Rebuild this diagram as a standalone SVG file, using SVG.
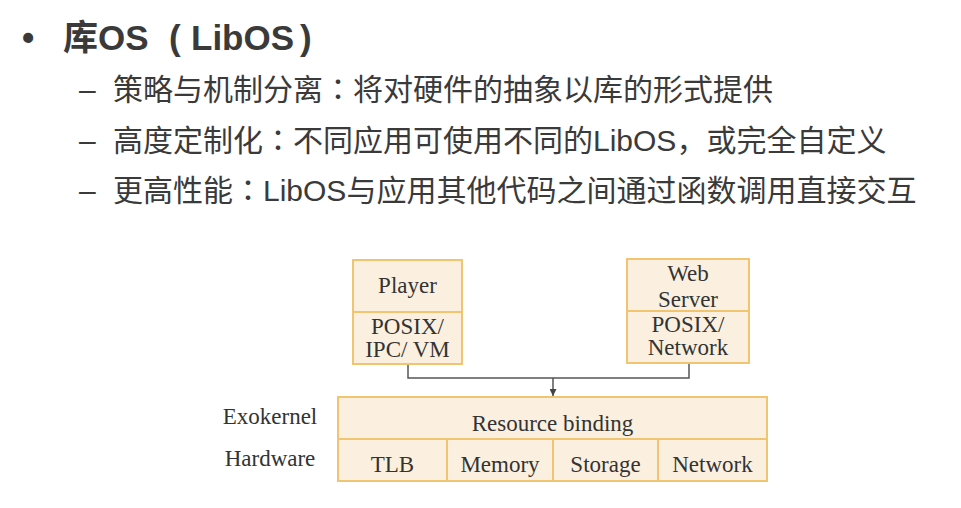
<svg xmlns="http://www.w3.org/2000/svg" width="961" height="508" viewBox="0 0 961 508">
<defs>
<style>
.t{font-family:'Liberation Sans','Noto Sans CJK SC',sans-serif;fill:#3a3a3a}
.h{font-size:35px;font-weight:bold}
.s{font-size:30px}
.p{font-family:'Noto Sans CJK TC',sans-serif}
.box{fill:#FBF0DF;stroke:#F1C46F;stroke-width:2}
.d{font-family:'Liberation Serif','Times New Roman',serif;font-size:23px;fill:#333;text-anchor:middle}
.c{fill:none;stroke:#555;stroke-width:1.5}
</style>
<marker id="arr" viewBox="0 0 10 10" refX="10" refY="5" markerWidth="7" markerHeight="7" orient="auto" markerUnits="userSpaceOnUse">
<path d="M0,0 L10,5 L0,10 z" fill="#444"/>
</marker>
</defs>
<rect width="961" height="508" fill="#fff"/>
<g id="text">
<text class="t h" x="22" y="50">•</text>
<text class="t h" x="63" y="50">库OS<tspan x="169">(</tspan><tspan x="191">LibOS</tspan><tspan x="300">)</tspan></text>
<text class="t s" x="79" y="100">–</text>
<text class="t s" x="113" y="100">策略与机制分离<tspan class="p">：</tspan>将对硬件的抽象以库的形式提供</text>
<text class="t s" x="79" y="151">–</text>
<text class="t s" x="113" y="151">高度定制化<tspan class="p">：</tspan>不同应用可使用不同的LibOS，或完全自定义</text>
<text class="t s" x="79" y="201">–</text>
<text class="t s" x="113" y="201">更高性能<tspan class="p">：</tspan>LibOS与应用其他代码之间通过函数调用直接交互</text>
</g>
<g id="connectors">
<path class="c" d="M408,364 V378 H689 V363"/>
<path class="c" d="M553,378 V396" marker-end="url(#arr)"/>
</g>
<g id="player">
<rect class="box" x="353" y="260" width="109" height="52"/>
<rect class="box" x="353" y="312" width="109" height="52"/>
<text class="d" x="407.5" y="293">Player</text>
<text class="d" x="407.5" y="334">POSIX/</text>
<text class="d" x="407.5" y="357">IPC/ VM</text>
</g>
<g id="webserver">
<rect class="box" x="627" y="259" width="122" height="52"/>
<rect class="box" x="627" y="311" width="122" height="52"/>
<text class="d" x="688" y="281">Web</text>
<text class="d" x="688" y="307">Server</text>
<text class="d" x="688" y="332">POSIX/</text>
<text class="d" x="688" y="355">Network</text>
</g>
<g id="labels">
<text class="d" x="270" y="424">Exokernel</text>
<text class="d" x="270" y="466">Hardware</text>
</g>
<g id="exokernel">
<rect class="box" x="338" y="397" width="429" height="42"/>
<text class="d" x="552.5" y="431">Resource binding</text>
</g>
<g id="hardware">
<rect class="box" x="338" y="439" width="109" height="42"/>
<rect class="box" x="447" y="439" width="106" height="42"/>
<rect class="box" x="553" y="439" width="105" height="42"/>
<rect class="box" x="658" y="439" width="109" height="42"/>
<text class="d" x="392.5" y="472">TLB</text>
<text class="d" x="500" y="472">Memory</text>
<text class="d" x="605.5" y="472">Storage</text>
<text class="d" x="712.5" y="472">Network</text>
</g>
</svg>
